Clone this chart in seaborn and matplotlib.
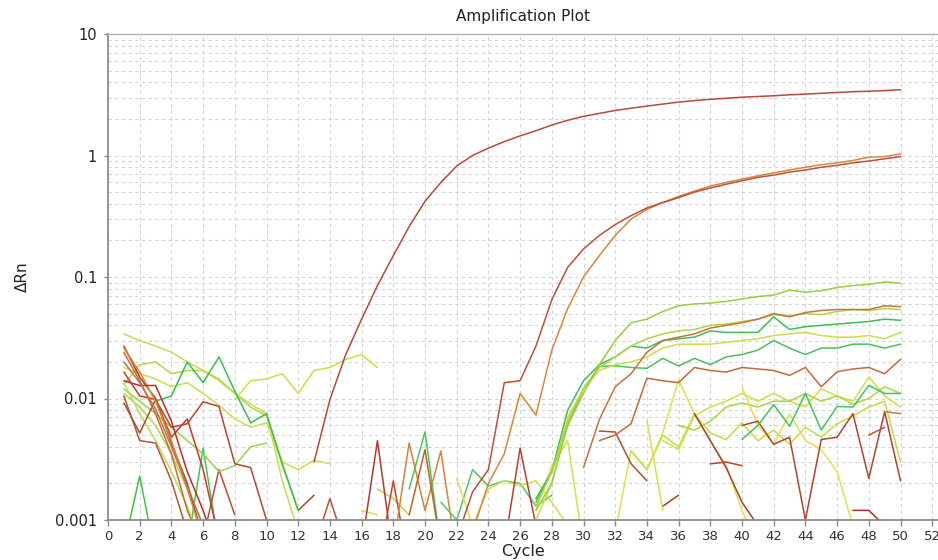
import numpy as np
import pandas as pd
import seaborn as sns
import matplotlib
matplotlib.use('Agg')
import matplotlib.pyplot as plt
from matplotlib.ticker import MultipleLocator, LogLocator, NullFormatter

# --- data (delta Rn per cycle); each well as (first cycle, values) ---
amp_early = (13, [0.003, 0.0098, 0.023, 0.045, 0.085, 0.15, 0.26, 0.42, 0.6, 0.82, 1.0, 1.15, 1.3,
                  1.45, 1.6, 1.78, 1.95, 2.1, 2.22, 2.35, 2.45, 2.55, 2.65, 2.75, 2.83, 2.9, 2.96,
                  3.02, 3.06, 3.1, 3.16, 3.2, 3.25, 3.3, 3.35, 3.38, 3.42, 3.48])
amp_late_red = (22, [0.0007, 0.0017, 0.0026, 0.0135, 0.014, 0.027, 0.065, 0.12, 0.17, 0.22, 0.27,
                     0.32, 0.37, 0.41, 0.45, 0.5, 0.54, 0.58, 0.62, 0.66, 0.69, 0.73, 0.76, 0.8,
                     0.83, 0.87, 0.9, 0.94, 0.98])
amp_late_orange = (23, [0.0008, 0.002, 0.0035, 0.011, 0.0073, 0.025, 0.055, 0.1, 0.15, 0.22, 0.3,
                        0.36, 0.41, 0.46, 0.51, 0.56, 0.6, 0.64, 0.68, 0.72, 0.76, 0.8, 0.84,
                        0.87, 0.91, 0.97, 0.98, 1.03])

plateau_a = (27, [0.0012, 0.002, 0.006, 0.011, 0.019, 0.03, 0.042, 0.045, 0.052, 0.058, 0.06, 0.061,
                  0.063, 0.066, 0.069, 0.071, 0.078, 0.075, 0.077, 0.082, 0.085, 0.087, 0.091, 0.089])
plateau_b = (30, [0.0027, 0.0067, 0.0125, 0.016, 0.024, 0.03, 0.032, 0.034, 0.038, 0.04, 0.042,
                  0.045, 0.05, 0.047, 0.051, 0.053, 0.054, 0.054, 0.054, 0.058, 0.057])
plateau_c = (27, [0.0013, 0.0025, 0.0065, 0.012, 0.018, 0.022, 0.027, 0.031, 0.034, 0.036, 0.037,
                  0.04, 0.041, 0.043, 0.045, 0.049, 0.048, 0.05, 0.049, 0.052, 0.054, 0.053, 0.055, 0.054])
plateau_d = (27, [0.0015, 0.0025, 0.008, 0.014, 0.019, 0.022, 0.027, 0.026, 0.03, 0.031, 0.032,
                  0.036, 0.035, 0.035, 0.035, 0.047, 0.037, 0.039, 0.04, 0.041, 0.042, 0.043, 0.045, 0.044])
plateau_e = (27, [0.001, 0.002, 0.007, 0.012, 0.017, 0.019, 0.02, 0.022, 0.026, 0.028, 0.028, 0.028,
                  0.029, 0.03, 0.031, 0.033, 0.034, 0.035, 0.033, 0.032, 0.032, 0.033, 0.031, 0.035])
plateau_f = (27, [0.0014, 0.0025, 0.006, 0.012, 0.0183, 0.0186, 0.018, 0.0177, 0.0214, 0.0185, 0.0214,
                  0.019, 0.022, 0.023, 0.025, 0.03, 0.026, 0.023, 0.026, 0.026, 0.028, 0.028, 0.026, 0.028])
plateau_g = (31, [0.0045, 0.005, 0.0062, 0.0147, 0.014, 0.0135, 0.018, 0.017, 0.0165, 0.018, 0.0175,
                  0.017, 0.0155, 0.018, 0.0125, 0.0166, 0.0175, 0.018, 0.016, 0.021])
plateau_h = (40, [0.0046, 0.006, 0.0089, 0.0059, 0.011, 0.0055, 0.0086, 0.0085, 0.0128, 0.011, 0.011])

late_noise_1 = (32, [0.0008, 0.0037, 0.0026, 0.0052, 0.0142, 0.0075, 0.0045, 0.0028, 0.0012, 0.0006])
late_noise_2 = (33, [0.0037, 0.0026, 0.005, 0.004, 0.0075, 0.0052, 0.0046, 0.0063, 0.0045, 0.0055,
                     0.0042, 0.0058, 0.0048, 0.0062, 0.0072, 0.0085, 0.0095, 0.003])
late_noise_3 = (35, [0.0045, 0.0038, 0.0072, 0.0085, 0.0095, 0.011, 0.0095, 0.011, 0.0095, 0.0085,
                     0.012, 0.0105, 0.0095, 0.015, 0.0105, 0.0085])
late_noise_4 = (36, [0.006, 0.0055, 0.0065, 0.0085, 0.0092, 0.0085, 0.0095, 0.0095, 0.011, 0.0095,
                     0.0105, 0.009, 0.01, 0.0125, 0.011])
late_noise_5 = (40, [0.0125, 0.006, 0.0042, 0.0075, 0.0045, 0.0038, 0.0025, 0.0009])
late_noise_6 = (37, [0.0075, 0.0045, 0.0027, 0.0014, 0.0009])
late_noise_7 = (40, [0.006, 0.0065, 0.0042, 0.0048, 0.001, 0.0046, 0.0048, 0.0075, 0.0022, 0.0078, 0.0021])
late_noise_8 = (48, [0.005, 0.0058])
late_noise_9 = (49, [0.0078, 0.0075])
late_noise_10 = (47, [0.0012, 0.0012, 0.0009])
late_noise_11 = (31, [0.0054, 0.0053, 0.0029, 0.0021])
late_noise_12 = (35, [0.0013, 0.0016])
late_noise_13 = (38, [0.0029, 0.003, 0.0028])
late_noise_14 = (34, [0.0066, 0.0012])
late_noise_15 = (27, [0.0012, 0.0028, 0.0045, 0.0006])

mid_noise_1 = (21, [0.0014, 0.001, 0.0026, 0.0019, 0.0021, 0.002, 0.0013, 0.0016])
mid_noise_2 = (22, [0.0022, 0.0009, 0.0018, 0.0021, 0.0019, 0.0021, 0.0014, 0.0009])
mid_noise_3 = (25, [0.0006, 0.0039, 0.0009])
spike_1 = (1, [0.0006, 0.0023, 0.0005])
spike_2 = (5, [0.0006, 0.0039, 0.0006])
spike_3 = (6, [0.0007, 0.0026, 0.0011])
spike_4 = (12, [0.0012, 0.0016])
spike_5 = (13, [0.0006, 0.0015, 0.0006])
spike_6 = (16, [0.0012, 0.0011])
spike_7 = (17, [0.0018, 0.0015, 0.0011])
spike_8 = (16, [0.0006, 0.0045, 0.0005])
spike_9 = (17, [0.0004, 0.0021, 0.0004])
spike_10 = (18, [0.0006, 0.0043, 0.0012, 0.0037, 0.0005])
spike_11 = (19, [0.0018, 0.0053, 0.0006])
spike_12 = (19, [0.0011, 0.0038, 0.0006])

early_1 = (1, [0.034, 0.03, 0.027, 0.024, 0.02, 0.017, 0.014, 0.011, 0.009, 0.0075, 0.0021, 0.0008])
early_2 = (8, [0.0098, 0.014, 0.0145, 0.016, 0.011, 0.017, 0.018, 0.021, 0.023, 0.018])
early_3 = (3, [0.0095, 0.0105, 0.02, 0.0135, 0.022, 0.0115, 0.0063, 0.0075, 0.0029, 0.0012])
early_4 = (1, [0.013, 0.019, 0.02, 0.016, 0.017, 0.017, 0.0145, 0.011, 0.0085, 0.0072, 0.0028, 0.0012])
early_5 = (1, [0.018, 0.016, 0.0145, 0.0125, 0.0135, 0.011, 0.0088, 0.0068, 0.0058, 0.0063, 0.003,
               0.0026, 0.0031, 0.0029])
early_6 = (1, [0.012, 0.0095, 0.0075, 0.0058, 0.0045, 0.0035, 0.0025, 0.0028, 0.004, 0.0043])
early_7 = (1, [0.011, 0.0085, 0.006, 0.0035, 0.0018, 0.0009])
early_8 = (1, [0.0135, 0.0075, 0.0045, 0.0025, 0.0013, 0.0006])
early_red_1 = (1, [0.027, 0.015, 0.01, 0.0043, 0.002, 0.0007])
early_red_2 = (1, [0.0165, 0.0105, 0.0098, 0.0048, 0.0068, 0.0026, 0.0007])
early_red_3 = (1, [0.0092, 0.0052, 0.0098, 0.0058, 0.0062, 0.0094, 0.0086, 0.0029, 0.0027, 0.001, 0.0005])
early_red_4 = (1, [0.024, 0.014, 0.0075, 0.0035, 0.0012, 0.0006])
early_red_5 = (1, [0.026, 0.0165, 0.0095, 0.0045, 0.0018, 0.0007])
early_red_6 = (1, [0.0105, 0.0045, 0.0043, 0.0021, 0.0008])
early_red_7 = (1, [0.014, 0.0128, 0.0128, 0.0065, 0.0025, 0.0012, 0.0005])
early_red_8 = (1, [0.02, 0.0135, 0.0082, 0.004, 0.0019, 0.0009])

y_tick_values = [0.001, 0.01, 0.1, 1, 10]
y_tick_labels = ['0.001', '0.01', '0.1', '1', '10']

# drawing order: noise first, amplification curves last (on top)
wells = [
    ('spike_1', spike_1, '#3ec24f'), ('spike_2', spike_2, '#44c657'), ('spike_3', spike_3, '#b8503a'),
    ('spike_4', spike_4, '#b0402e'), ('spike_5', spike_5, '#c0502e'), ('spike_6', spike_6, '#d6e04a'),
    ('spike_7', spike_7, '#c2d84a'), ('spike_8', spike_8, '#b03a2c'), ('spike_9', spike_9, '#c04a30'),
    ('spike_10', spike_10, '#d8803c'), ('spike_11', spike_11, '#48c95a'), ('spike_12', spike_12, '#c0602e'),
    ('mid_noise_1', mid_noise_1, '#52c862'), ('mid_noise_2', mid_noise_2, '#d4e04a'),
    ('mid_noise_3', mid_noise_3, '#b6402e'),
    ('early_1', early_1, '#c6de4c'), ('early_2', early_2, '#d2dc3e'), ('early_4', early_4, '#b4d84a'),
    ('early_5', early_5, '#c8e04a'), ('early_6', early_6, '#94d84a'), ('early_7', early_7, '#a6da4e'),
    ('early_8', early_8, '#b8e050'), ('early_3', early_3, '#36c04c'),
    ('early_red_1', early_red_1, '#a83a2e'), ('early_red_2', early_red_2, '#c83828'),
    ('early_red_3', early_red_3, '#b04a30'), ('early_red_4', early_red_4, '#c86a30'),
    ('early_red_5', early_red_5, '#d88838'), ('early_red_6', early_red_6, '#b05830'),
    ('early_red_7', early_red_7, '#b83028'), ('early_red_8', early_red_8, '#c87040'),
    ('late_noise_1', late_noise_1, '#e0e048'), ('late_noise_2', late_noise_2, '#c0e040'),
    ('late_noise_3', late_noise_3, '#d0e040'), ('late_noise_4', late_noise_4, '#a8d840'),
    ('late_noise_5', late_noise_5, '#e4e050'), ('late_noise_6', late_noise_6, '#a84030'),
    ('late_noise_7', late_noise_7, '#b04432'), ('late_noise_8', late_noise_8, '#c8503a'),
    ('late_noise_9', late_noise_9, '#d07838'), ('late_noise_10', late_noise_10, '#a83028'),
    ('late_noise_11', late_noise_11, '#b05034'), ('late_noise_12', late_noise_12, '#b83a2c'),
    ('late_noise_13', late_noise_13, '#c0402e'), ('late_noise_14', late_noise_14, '#dadc48'),
    ('late_noise_15', late_noise_15, '#d8e04a'),
    ('plateau_h', plateau_h, '#3fc85a'), ('plateau_g', plateau_g, '#c8683a'),
    ('plateau_f', plateau_f, '#45c25e'), ('plateau_e', plateau_e, '#cddc48'),
    ('plateau_d', plateau_d, '#3cbf55'), ('plateau_c', plateau_c, '#b5d440'),
    ('plateau_b', plateau_b, '#c7733a'), ('plateau_a', plateau_a, '#98d03c'),
    ('amp_late_orange', amp_late_orange, '#d9873a'), ('amp_late_red', amp_late_red, '#bf4e3a'),
    ('amp_early', amp_early, '#b9493a'),
]

rows = []
for name, (first, values), _ in wells:
    for i, v in enumerate(values):
        rows.append((name, first + i, v))
df = pd.DataFrame(rows, columns=['well', 'cycle', 'rn'])
palette = {name: color for name, _, color in wells}

sns.set_theme(style='white')
plt.rcParams['font.family'] = ['DejaVu Sans']

fig = plt.figure(figsize=(9.38, 5.6), dpi=100)
ax = fig.add_axes([108 / 938, 40 / 560, 830 / 938, 486 / 560])
ax.set_yscale('log')

sns.lineplot(data=df, x='cycle', y='rn', hue='well', units='well', estimator=None,
             palette=palette, hue_order=[w[0] for w in wells], legend=False,
             linewidth=1.1, sort=False, ax=ax)

ax.set_xlim(0, 830 / 15.85)
ax.set_ylim(0.001, 10)
ax.xaxis.set_major_locator(MultipleLocator(2))
ax.set_yticks(y_tick_values)
ax.set_yticklabels(y_tick_labels)
ax.yaxis.set_minor_locator(LogLocator(base=10, subs=np.arange(2, 10)))
ax.yaxis.set_minor_formatter(NullFormatter())

grid_kw = dict(color='#d4d4d4', linestyle=(0, (3, 3)), linewidth=0.8)
ax.grid(which='major', axis='x', **grid_kw)
ax.grid(which='both', axis='y', **grid_kw)
ax.set_axisbelow(True)

for side in ['left', 'bottom']:
    ax.spines[side].set_color('#8c8c8c')
    ax.spines[side].set_linewidth(1.3)
ax.spines['top'].set_color('#b4b4b4')
ax.spines['top'].set_linewidth(1.0)
ax.spines['right'].set_visible(False)

ax.tick_params(axis='x', which='major', length=4, width=1, color='#8c8c8c',
               labelsize=9.5, labelcolor='#333333', pad=3, direction='out', bottom=True)
ax.tick_params(axis='y', which='major', length=3, width=1, color='#8c8c8c',
               labelsize=10.5, labelcolor='#222222', pad=5, left=True)
ax.tick_params(axis='y', which='minor', length=0)

ax.set_title('Amplification Plot', fontsize=11, color='#222222', pad=9)
ax.set_xlabel('Cycle', fontsize=11.5, color='#222222', labelpad=1)
ax.set_ylabel('ΔRn', fontsize=11, color='#222222')
ax.yaxis.set_label_coords(-0.094, 0.5)

fig.savefig('out.png', dpi=100)
